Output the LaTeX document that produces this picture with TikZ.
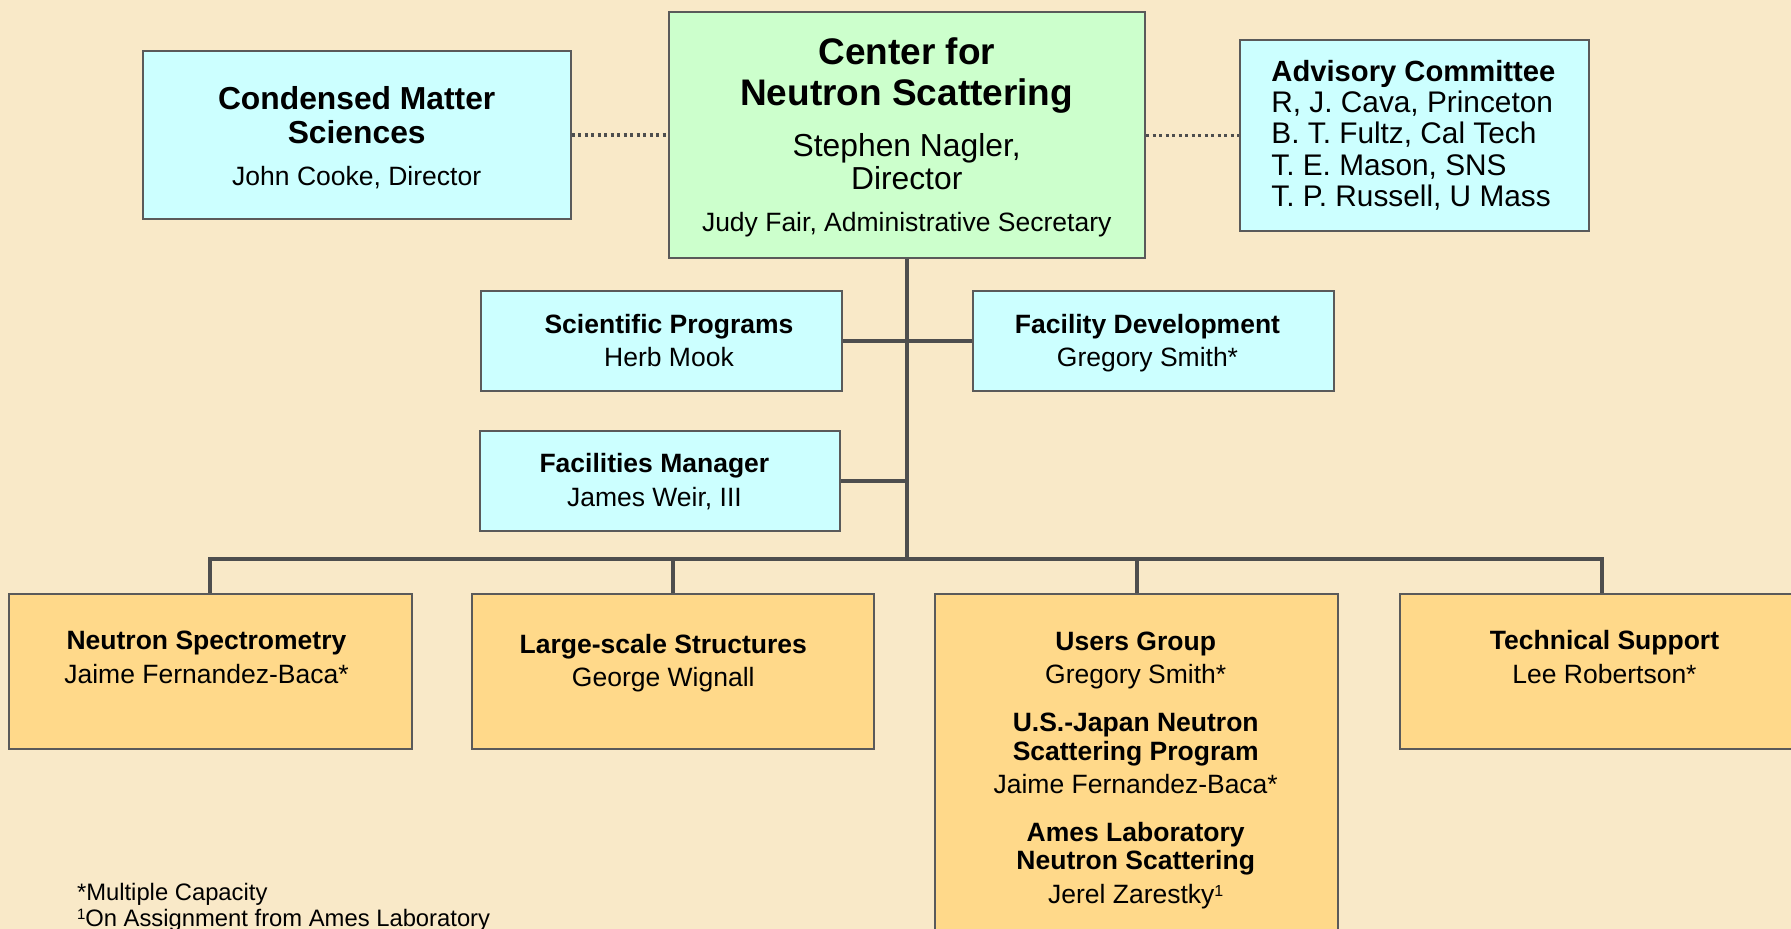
\documentclass[tikz,border=0pt]{standalone}
\usepackage{fontspec}
\setmainfont{Liberation Sans}
\definecolor{paper}{HTML}{F9E9C8}
\definecolor{cyanbox}{HTML}{CCFFFF}
\definecolor{greenbox}{HTML}{CCFFCC}
\definecolor{orangebox}{HTML}{FFD98A}
\definecolor{edge}{HTML}{5A5A5A}
\definecolor{wire}{HTML}{4E4E4E}

\tikzset{
  unit/.style 2 args={minimum width=#1*0.5pt, minimum height=#2*0.5pt},
  orgbox/.style={draw=edge, line width=1pt, inner sep=0pt, rectangle},
  cyanfill/.style={orgbox, fill=cyanbox},
  greenfill/.style={orgbox, fill=greenbox},
  orangefill/.style={orgbox, fill=orangebox},
  wireline/.style={draw=wire, line width=2pt},
  dotline/.style={draw=wire, line width=1.7pt, dash pattern=on 1.6pt off 1.65pt},
  txt/.style={inner sep=0pt, anchor=base, text=black},
  bsub/.style={txt, font=\bfseries\fontsize{13.25}{15}\selectfont},
  rsub/.style={txt, font=\fontsize{13.25}{15}\selectfont},
  btitle/.style={txt, font=\bfseries\fontsize{18.5}{21}\selectfont},
  rname/.style={txt, font=\fontsize{15.9}{18}\selectfont},
  bcms/.style={txt, font=\bfseries\fontsize{15.9}{18}\selectfont},
  badv/.style={txt, anchor=base west, font=\bfseries\fontsize{14.6}{16}\selectfont},
  radv/.style={txt, anchor=base west, font=\fontsize{14.9}{16}\selectfont},
  note/.style={txt, anchor=base west, font=\fontsize{11.9}{14}\selectfont},
}

\begin{document}
\begin{tikzpicture}[x=0.5pt, y=-0.5pt]
\useasboundingbox (0,0) rectangle (1791,929);
\clip (0,0) rectangle (1791,929);
\fill[paper] (0,0) rectangle (1791,929);

% ---- top row ----
\node[cyanfill, unit={427.6}{168.3}] (cms) at (356.7,135.15) {};
\node[greenfill, unit={476}{246.3}] (ctr) at (907,134.85) {};
\node[cyanfill, unit={348.4}{190.7}] (adv) at (1414.6,135.35) {};

% ---- staff boxes ----
\node[cyanfill, unit={361}{99.7}] (sp) at (661,340.85) {};
\node[cyanfill, unit={361}{99.7}] (fd) at (1153.5,340.85) {};
\node[cyanfill, unit={360.4}{99.7}] (fm) at (660.2,480.85) {};

% ---- groups ----
\node[orangefill, unit={403}{155}] (ns) at (210.1,671.5) {};
\node[orangefill, unit={402.3}{155}] (ls) at (673.1,671.5) {};
\node[orangefill, unit={403}{380}] (ug) at (1136.5,784) {};
\node[orangefill, unit={405}{155}] (ts) at (1602,671.5) {};

% ---- connectors ----
\coordinate (bus) at (907,559.3);
\draw[dotline] (cms.east) -- (cms.east -| ctr.west);
\draw[dotline] (ctr.east |- adv.west) -- (adv.west);
\draw[wireline] (ctr.south) -- (bus);
\draw[wireline] (sp.east) -- (fd.west);
\draw[wireline] (fm.east) -- (fm.east -| bus);
\draw[wireline] (ns.north) |- (bus) -| (ts.north);
\draw[wireline] (ls.north) -- (ls.north |- bus);
\draw[wireline] (ug.north) -- (ug.north |- bus);

% ---- texts: top row ----
\node[bcms] (cms1) at (356.7,109.3) {Condensed Matter};
\node[bcms] (cms2) at (356.7,144) {Sciences};
\node[rsub] (cms3) at (356.7,185.7) {John Cooke, Director};

\node[btitle] (ctr1) at (906.7,65) {Center for};
\node[btitle] (ctr2) at (906.7,106) {Neutron Scattering};
\node[rname] (ctr3) at (906.7,156.7) {Stephen Nagler,};
\node[rname] (ctr4) at (906.7,190) {Director};
\node[rsub] (ctr5) at (906.7,231.7) {Judy Fair, Administrative Secretary};

\node[badv] (adv1) at (1271,81.7) {Advisory Committee};
\node[radv] (adv2) at (1271,112.7) {R, J. Cava, Princeton};
\node[radv] (adv3) at (1271,144) {B. T. Fultz, Cal Tech};
\node[radv] (adv4) at (1271,175.5) {T. E. Mason, SNS};
\node[radv] (adv5) at (1271,206.7) {T. P. Russell, U Mass};

% ---- texts: staff ----
\node[bsub] (sp1) at (669,333.3) {Scientific Programs};
\node[rsub] (sp2) at (669,366.7) {Herb Mook};
\node[bsub] (fd1) at (1147.5,333.3) {Facility Development};
\node[rsub] (fd2) at (1147.5,366.7) {Gregory Smith*};
\node[bsub] (fm1) at (654.4,472.7) {Facilities Manager};
\node[rsub] (fm2) at (654.4,506.7) {James Weir, III};

% ---- texts: groups ----
\node[bsub] (ns1) at (206.5,649.3) {Neutron Spectrometry};
\node[rsub] (ns2) at (206.5,683.3) {Jaime Fernandez-Baca*};
\node[bsub] (ls1) at (663.3,653.3) {Large-scale Structures};
\node[rsub] (ls2) at (663.3,686.7) {George Wignall};
\node[bsub] (ug1) at (1135.7,650) {Users Group};
\node[rsub] (ug2) at (1135.7,683.3) {Gregory Smith*};
\node[bsub] (ug3) at (1135.7,731.7) {U.S.-Japan Neutron};
\node[bsub] (ug4) at (1135.7,760) {Scattering Program};
\node[rsub] (ug5) at (1135.7,793.3) {Jaime Fernandez-Baca*};
\node[bsub] (ug6) at (1135.7,841.7) {Ames Laboratory};
\node[bsub] (ug7) at (1135.7,869.3) {Neutron Scattering};
\node[rsub] (ug8) at (1135.7,903.3) {Jerel Zarestky{\fontsize{8}{9}\selectfont\raisebox{0.85ex}{1}}};
\node[bsub] (ts1) at (1604.5,649.3) {Technical Support};
\node[rsub] (ts2) at (1604.5,683.3) {Lee Robertson*};

% ---- footnotes ----
\node[note] (fn1) at (76.6,900) {*Multiple Capacity};
\node[note] (fn2) at (76.6,926.7) {{\fontsize{7.5}{9}\selectfont\raisebox{0.9ex}{1}}On Assignment from Ames Laboratory};
\end{tikzpicture}
\end{document}
